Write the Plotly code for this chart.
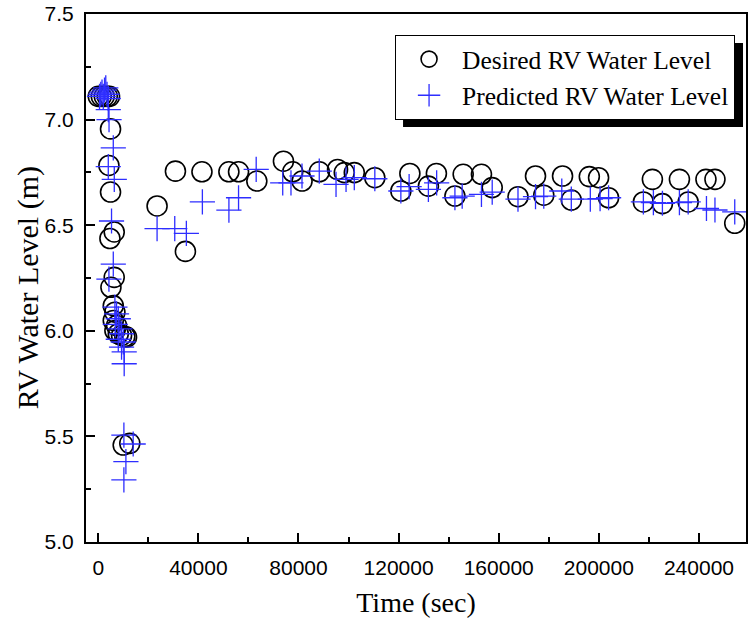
import plotly.graph_objects as go

# Desired RV water level (open circles)
desired_time = [0, 1200, 2400, 3600, 4500,
                4900, 4260, 4900, 6370, 4660, 6370, 5060, 6000, 6650, 6000,
                7300, 6650, 8000, 9300, 10600, 11300, 9960, 12600,
                23500, 30830, 34820, 41430, 52190, 56050, 63350, 73990, 77700, 81430,
                88330, 95600, 98300, 102300, 110500, 120900, 124500, 131900, 135100, 142500,
                145800, 153100, 157400, 167700, 174700, 178000, 185500, 189000, 196200, 199900,
                203900, 217800, 221400, 225400, 232200, 235700, 242800, 246400, 254300]
desired_level = [7.11, 7.11, 7.11, 7.11, 7.11,
                 6.956, 6.783, 6.657, 6.468, 6.437, 6.253, 6.206, 6.119, 6.088, 6.049,
                 6.025, 6.001, 5.986, 5.978, 5.973, 5.97, 5.459, 5.467,
                 6.591, 6.756, 6.376, 6.753, 6.753, 6.753, 6.709, 6.803, 6.753, 6.709,
                 6.753, 6.764, 6.749, 6.749, 6.725, 6.662, 6.745, 6.685, 6.745, 6.638,
                 6.741, 6.741, 6.678, 6.635, 6.733, 6.642, 6.733, 6.619, 6.73, 6.725,
                 6.63, 6.61, 6.717, 6.602, 6.717, 6.61, 6.717, 6.717, 6.509]

# Predicted RV water level (blue crosses)
predicted_time = [500, 1000, 1500, 2000, 2500, 3000, 3500, 4000, 4000, 4300,
                  6000, 4000, 6400, 5300, 6000, 4260,
                  6650, 7300, 8000, 6800, 8650, 9300, 8000, 10000, 9300, 10360, 10360,
                  10240, 13950, 11040, 10240,
                  23500, 30560, 35200, 41600, 52200, 56050, 63100, 73700, 77000, 81400,
                  88300, 95000, 99000, 102300, 110500, 120900, 124200, 131900, 135200, 142500,
                  145400, 153100, 157400, 167700, 174700, 178000, 185200, 189000, 196600, 200500,
                  203900, 217800, 221800, 225400, 232200, 235700, 243000, 246400, 254300]
predicted_level = [7.11, 7.12, 7.13, 7.11, 7.14, 7.15, 7.12, 7.10, 7.047, 7.0,
                   6.866, 6.777, 6.717, 6.52, 6.316, 6.245,
                   6.112, 6.08, 6.057, 6.03, 6.009, 5.986, 5.96, 5.947, 5.923, 5.90, 5.844,
                   5.506, 5.464, 5.381, 5.294,
                   6.484, 6.484, 6.461, 6.61, 6.571, 6.63, 6.764, 6.70, 6.70, 6.733,
                   6.756, 6.693, 6.717, 6.725, 6.72, 6.662, 6.683, 6.67, 6.70, 6.63,
                   6.638, 6.646, 6.657, 6.623, 6.635, 6.638, 6.662, 6.623, 6.623, 6.626,
                   6.63, 6.61, 6.607, 6.604, 6.607, 6.61, 6.579, 6.572, 6.563]

SANS = "Liberation Sans, Arial, sans-serif"
SERIF = "Liberation Serif, Times New Roman, serif"

fig = go.Figure()
fig.add_trace(go.Scatter(
    x=desired_time, y=desired_level, mode="markers",
    name="Desired RV Water Level",
    marker=dict(symbol="circle-open", size=20, color="black",
                line=dict(color="black", width=1.6)),
))
fig.add_trace(go.Scatter(
    x=predicted_time, y=predicted_level, mode="markers",
    name="Predicted RV Water Level",
    marker=dict(symbol="cross-thin-open", size=18, color="#2e2eff",
                line=dict(color="#2e2eff", width=1.3)),
))

W, H = 750, 624
L, R, T, B = 86, 2, 14, 82
pw, ph = W - L - R, H - T - B

def px_x(p):
    return (p - L) / pw

def px_y(p):
    return 1 - (p - T) / ph

# legend drop shadow (offset behind the legend box)
fig.add_shape(type="rect", xref="paper", yref="paper",
              x0=px_x(404), x1=px_x(745), y0=px_y(127), y1=px_y(43),
              fillcolor="black", line=dict(width=0), layer="above")

axis_common = dict(
    showline=True, linecolor="black", linewidth=2, mirror=True,
    ticks="inside", ticklen=9, tickwidth=2, tickcolor="black",
    showgrid=False, zeroline=False,
    tickfont=dict(family=SANS, size=21, color="black"),
)

fig.update_xaxes(
    range=[-4900, 258800], tick0=0, dtick=40000, tickformat="d",
    minor=dict(ticks="inside", ticklen=5, tickwidth=2, tickcolor="black",
               tick0=0, dtick=20000),
    title=dict(text="Time (sec)", font=dict(family=SERIF, size=28, color="black"),
               standoff=14),
    ticklabelstandoff=6,
    **axis_common,
)
fig.update_yaxes(
    range=[5.0, 7.5], tick0=5.0, dtick=0.5, tickformat=".1f",
    minor=dict(ticks="inside", ticklen=5, tickwidth=2, tickcolor="black",
               tick0=5.0, dtick=0.25),
    ticklabelstandoff=6,
    **axis_common,
)

# y-axis title placed as rotated text
fig.add_annotation(text="RV Water Level (m)", xref="paper", yref="paper",
                   x=px_x(28), y=px_y(288), xanchor="center", yanchor="middle",
                   textangle=-90, showarrow=False,
                   font=dict(family=SERIF, size=30, color="black"))

fig.update_layout(
    width=W, height=H,
    margin=dict(l=L, r=R, t=T, b=B, pad=0),
    paper_bgcolor="white", plot_bgcolor="white",
    showlegend=True,
    legend=dict(x=px_x(396), y=px_y(35), xanchor="left", yanchor="top",
                bgcolor="white", bordercolor="black", borderwidth=1,
                font=dict(family=SERIF, size=25.5, color="black"),
                tracegroupgap=0, itemsizing="trace", itemwidth=56),
)

fig.write_html("out.html")
